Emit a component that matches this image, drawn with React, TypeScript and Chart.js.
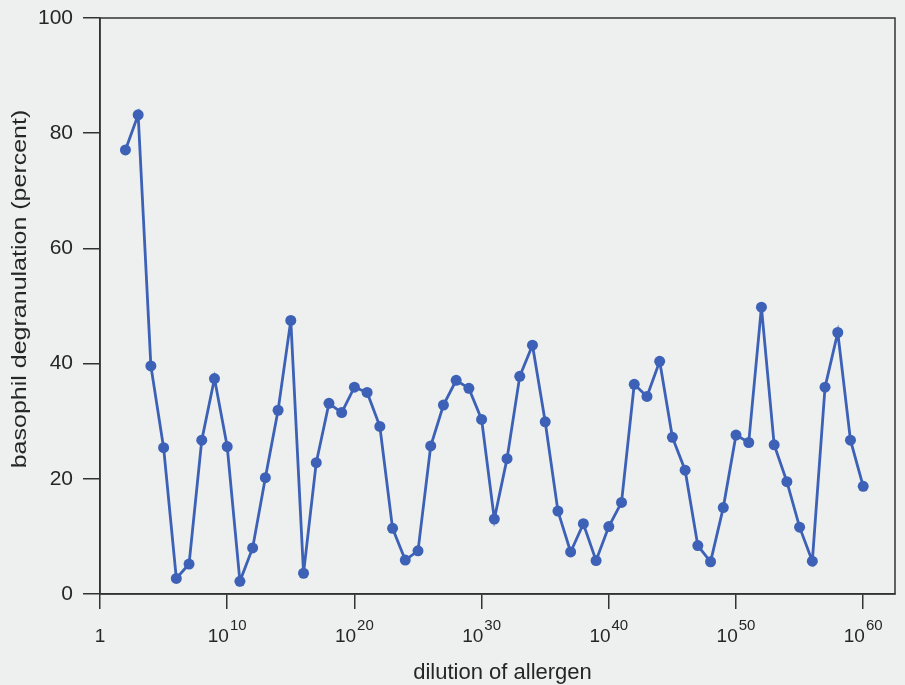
import { useEffect, useRef } from 'react';
import { Chart, registerables } from 'chart.js';

Chart.register(...registerables);

const dilutionExponents = [
  2, 3, 4, 5, 6, 7, 8, 9, 10, 11, 12, 13, 14, 15, 16, 17, 18, 19, 20, 21,
  22, 23, 24, 25, 26, 27, 28, 29, 30, 31, 32, 33, 34, 35, 36, 37, 38, 39, 40, 41,
  42, 43, 44, 45, 46, 47, 48, 49, 50, 51, 52, 53, 54, 55, 56, 57, 58, 59, 60,
];

const degranulation = [
  77.1, 83.2, 39.6, 25.4, 2.7, 5.2, 26.7, 37.4, 25.6, 2.2,
  8.0, 20.2, 31.9, 47.5, 3.6, 22.8, 33.1, 31.5, 35.9, 35.0,
  29.1, 11.4, 5.9, 7.5, 25.7, 32.8, 37.1, 35.7, 30.3, 13.0,
  23.5, 37.8, 43.2, 29.9, 14.4, 7.3, 12.2, 5.8, 11.7, 15.9,
  36.4, 34.3, 40.4, 27.2, 21.5, 8.4, 5.6, 15.0, 27.6, 26.3,
  49.8, 25.9, 19.5, 11.6, 5.7, 35.9, 45.4, 26.7, 18.7,
];

const xTickExponents = [0, 10, 20, 30, 40, 50, 60];
const yTickValues = [0, 20, 40, 60, 80, 100];
const xTitle = 'dilution of allergen';
const yTitle = 'basophil degranulation (percent)';

const FONT = '"Liberation Sans", Arial, Helvetica, sans-serif';
const INK = '#262626';
const PAPER = '#edf0ee';
const BLUE = '#3c61b6';

const paperPlugin = {
  id: 'paper',
  beforeDraw(chart: any) {
    const ctx = chart.ctx;
    ctx.save();
    ctx.fillStyle = PAPER;
    ctx.fillRect(0, 0, chart.width, chart.height);
    ctx.restore();
  },
};

const framePlugin = {
  id: 'frame',
  afterDraw(chart: any) {
    const { ctx, chartArea } = chart;
    const { left, top, right, bottom } = chartArea;
    ctx.save();
    ctx.strokeStyle = '#333333';
    ctx.lineWidth = 1.5;
    ctx.strokeRect(left, top, right - left, bottom - top);
    ctx.restore();
  },
};

const labelPlugin = {
  id: 'labels',
  afterDraw(chart: any) {
    const { ctx, chartArea } = chart;
    const xs = chart.scales.x;
    ctx.save();
    ctx.fillStyle = INK;
    ctx.textBaseline = 'alphabetic';
    const baseY = 642;
    for (const e of xTickExponents) {
      const px = xs.getPixelForValue(e);
      if (e === 0) {
        ctx.font = `19px ${FONT}`;
        ctx.textAlign = 'center';
        ctx.fillText('1', px, baseY);
      } else {
        const base = '10';
        const sup = String(e);
        ctx.font = `19px ${FONT}`;
        const wb = ctx.measureText(base).width;
        ctx.font = `15px ${FONT}`;
        const ws = ctx.measureText(sup).width;
        const start = px - (wb + 1 + ws) / 2;
        ctx.textAlign = 'left';
        ctx.font = `19px ${FONT}`;
        ctx.fillText(base, start, baseY);
        ctx.font = `15px ${FONT}`;
        ctx.fillText(sup, start + wb + 1, baseY - 12);
      }
    }
    // x title
    ctx.font = `22px ${FONT}`;
    ctx.textAlign = 'center';
    ctx.fillText(xTitle, (chartArea.left + chartArea.right) / 2 + 5, 679);
    // y title
    ctx.translate(26, 289);
    ctx.rotate(-Math.PI / 2);
    ctx.scale(1, 0.8);
    ctx.font = `25px ${FONT}`;
    ctx.textAlign = 'center';
    ctx.fillText(yTitle, 0, 0);
    ctx.restore();
  },
};

export default function App() {
  const ref = useRef<HTMLCanvasElement | null>(null);

  useEffect(() => {
    if (!ref.current) return;
    const points = dilutionExponents.map((x, i) => ({ x, y: degranulation[i] }));
    const chart = new Chart(ref.current, {
      type: 'line',
      data: {
        datasets: [
          {
            data: points,
            borderColor: BLUE,
            backgroundColor: BLUE,
            borderWidth: 2.8,
            pointRadius: 5.5,
            pointHoverRadius: 5.5,
            pointBackgroundColor: BLUE,
            pointBorderColor: BLUE,
            pointBorderWidth: 0,
            tension: 0,
            fill: false,
          },
        ],
      },
      options: {
        animation: false,
        responsive: true,
        maintainAspectRatio: false,
        layout: { padding: { left: 0, top: 18, right: 10, bottom: 0 } },
        plugins: {
          legend: { display: false },
          tooltip: { enabled: false },
        },
        scales: {
          x: {
            type: 'linear',
            min: 0,
            max: 62.5,
            afterFit(scale: any) {
              scale.height = 91;
              scale.paddingLeft = 0;
              scale.paddingRight = 0;
            },
            afterBuildTicks(scale: any) {
              scale.ticks = xTickExponents.map((v) => ({ value: v }));
            },
            grid: {
              drawOnChartArea: false,
              drawTicks: true,
              tickLength: 15,
              color: '#333333',
              lineWidth: 1.5,
            },
            border: { display: true, color: '#333333', width: 1.5 },
            ticks: { display: false },
          },
          y: {
            type: 'linear',
            min: 0,
            max: 100,
            afterFit(scale: any) {
              scale.width = 100;
              scale.paddingTop = 0;
              scale.paddingBottom = 0;
            },
            afterBuildTicks(scale: any) {
              scale.ticks = yTickValues.map((v) => ({ value: v }));
            },
            grid: {
              drawOnChartArea: false,
              drawTicks: true,
              tickLength: 17,
              color: '#333333',
              lineWidth: 1.5,
            },
            border: { display: true, color: '#333333', width: 1.5 },
            ticks: {
              padding: 10,
              color: INK,
              font: { family: FONT, size: 21 },
            },
          },
        },
      },
      plugins: [paperPlugin, framePlugin, labelPlugin],
    });
    return () => chart.destroy();
  }, []);

  return (
    <div style={{ position: 'absolute', left: 0, top: 0, width: 905, height: 685 }}>
      <canvas ref={ref} />
    </div>
  );
}
